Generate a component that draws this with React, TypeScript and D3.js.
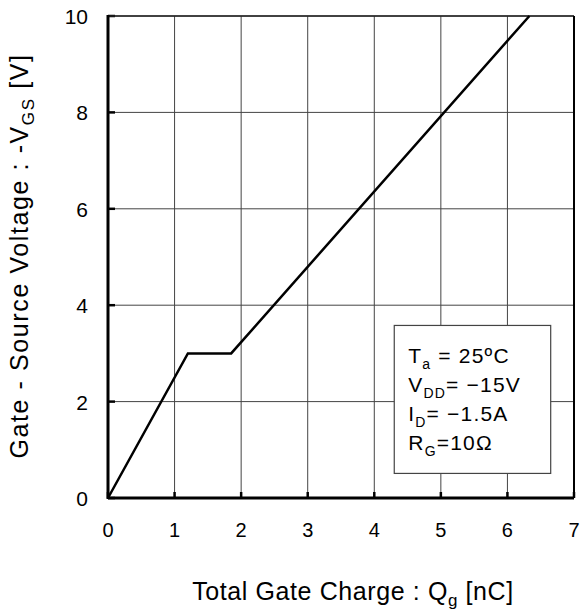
import * as d3 from "d3";
import { useEffect, useRef } from "react";

// gate charge curve, Qg [nC] vs -VGS [V]
const qg = [0, 1.2, 1.85, 6.33];
const vgs = [0, 3, 3, 10];
const xTicks = [0, 1, 2, 3, 4, 5, 6, 7];
const yTicks = [0, 2, 4, 6, 8, 10];
const notes = [
  { main: "T", sub: "a", rest: " = 25ºC" },
  { main: "V", sub: "DD", rest: "= \u221215V" },
  { main: "I", sub: "D", rest: "= \u22121.5A" },
  { main: "R", sub: "G", rest: "=10\u03A9" },
];

export default function App() {
  const svgRef = useRef<SVGSVGElement>(null);
  const width = 581;
  const height = 613;
  const margin = { top: 16, right: 7, bottom: 115, left: 108 };

  useEffect(() => {
    const svg = d3.select(svgRef.current);
    svg.selectAll("*").remove();
    const innerW = width - margin.left - margin.right;
    const innerH = height - margin.top - margin.bottom;
    const font = "'Liberation Sans', Arial, Helvetica, sans-serif";

    const x = d3.scaleLinear().domain([0, 7]).range([0, innerW]);
    const y = d3.scaleLinear().domain([0, 10]).range([innerH, 0]);

    const g = svg.append("g").attr("transform", `translate(${margin.left},${margin.top})`);

    // grid
    g.selectAll("line.gx")
      .data(xTicks.slice(1))
      .enter()
      .append("line")
      .attr("x1", (d) => x(d))
      .attr("x2", (d) => x(d))
      .attr("y1", 0)
      .attr("y2", innerH)
      .attr("stroke", "#444")
      .attr("stroke-width", 1);
    g.selectAll("line.gy")
      .data(yTicks.slice(1))
      .enter()
      .append("line")
      .attr("x1", 0)
      .attr("x2", innerW)
      .attr("y1", (d) => y(d))
      .attr("y2", (d) => y(d))
      .attr("stroke", "#444")
      .attr("stroke-width", 1);

    // inward ticks
    g.selectAll("line.tx")
      .data(xTicks)
      .enter()
      .append("line")
      .attr("x1", (d) => x(d))
      .attr("x2", (d) => x(d))
      .attr("y1", innerH)
      .attr("y2", innerH - 6)
      .attr("stroke", "#000")
      .attr("stroke-width", 2.5);
    g.selectAll("line.ty")
      .data(yTicks)
      .enter()
      .append("line")
      .attr("x1", 0)
      .attr("x2", 7)
      .attr("y1", (d) => y(d))
      .attr("y2", (d) => y(d))
      .attr("stroke", "#000")
      .attr("stroke-width", 2.5);

    // frame
    g.append("line").attr("x1", 0).attr("x2", innerW).attr("y1", 0).attr("y2", 0)
      .attr("stroke", "#222").attr("stroke-width", 1.5);
    g.append("line").attr("x1", innerW).attr("x2", innerW).attr("y1", 0).attr("y2", innerH)
      .attr("stroke", "#000").attr("stroke-width", 2);
    g.append("line").attr("x1", 0).attr("x2", 0).attr("y1", -1).attr("y2", innerH + 1)
      .attr("stroke", "#000").attr("stroke-width", 3);
    g.append("line").attr("x1", 0).attr("x2", innerW).attr("y1", innerH).attr("y2", innerH)
      .attr("stroke", "#000").attr("stroke-width", 3);

    // curve
    const line = d3
      .line<number>()
      .x((_, i) => x(qg[i]))
      .y((d) => y(d));
    g.append("path")
      .datum(vgs)
      .attr("d", line)
      .attr("fill", "none")
      .attr("stroke", "#000")
      .attr("stroke-width", 2.5);

    // tick labels
    g.selectAll("text.xl")
      .data(xTicks)
      .enter()
      .append("text")
      .attr("x", (d) => x(d))
      .attr("y", innerH + 39)
      .attr("text-anchor", "middle")
      .attr("font-family", font)
      .attr("font-size", 20)
      .text((d) => d);
    g.selectAll("text.yl")
      .data(yTicks)
      .enter()
      .append("text")
      .attr("x", -20)
      .attr("y", (d) => y(d) + 8)
      .attr("text-anchor", "end")
      .attr("font-family", font)
      .attr("font-size", 21)
      .text((d) => d);

    // conditions box
    const bx = x(4.3);
    const by = y(3.58);
    g.append("rect")
      .attr("x", bx)
      .attr("y", by)
      .attr("width", x(6.65) - bx)
      .attr("height", y(0.51) - by)
      .attr("fill", "#fff")
      .attr("stroke", "#444")
      .attr("stroke-width", 1.2);
    notes.forEach((n, i) => {
      const t = g.append("text")
        .attr("x", bx + 14)
        .attr("y", by + 38 + i * 29)
        .attr("font-family", font)
        .attr("font-size", 21)
        .attr("letter-spacing", 1.2);
      t.append("tspan").text(n.main);
      t.append("tspan").attr("font-size", 14).attr("dy", 6).text(n.sub);
      t.append("tspan").attr("dy", -6).text(n.rest);
    });

    // axis titles
    const xt = svg.append("text")
      .attr("x", 353)
      .attr("y", 600)
      .attr("text-anchor", "middle")
      .attr("font-family", font)
      .attr("font-size", 25)
      .attr("letter-spacing", 0.6);
    xt.append("tspan").text("Total Gate Charge : Q");
    xt.append("tspan").attr("font-size", 17).attr("dy", 6).text("g");
    xt.append("tspan").attr("dy", -6).text(" [nC]");

    const yt = svg.append("text")
      .attr("transform", "translate(28,256) rotate(-90)")
      .attr("text-anchor", "middle")
      .attr("font-family", font)
      .attr("font-size", 25)
      .attr("letter-spacing", 1.6);
    yt.append("tspan").text("Gate - Source Voltage : -V");
    yt.append("tspan").attr("font-size", 17).attr("dy", 6).text("GS");
    yt.append("tspan").attr("dy", -6).text(" [V]");
  }, []);

  return (
    <svg
      ref={svgRef}
      width={width}
      height={height}
      style={{ position: "absolute", left: 0, top: 0, background: "#fff" }}
    />
  );
}
